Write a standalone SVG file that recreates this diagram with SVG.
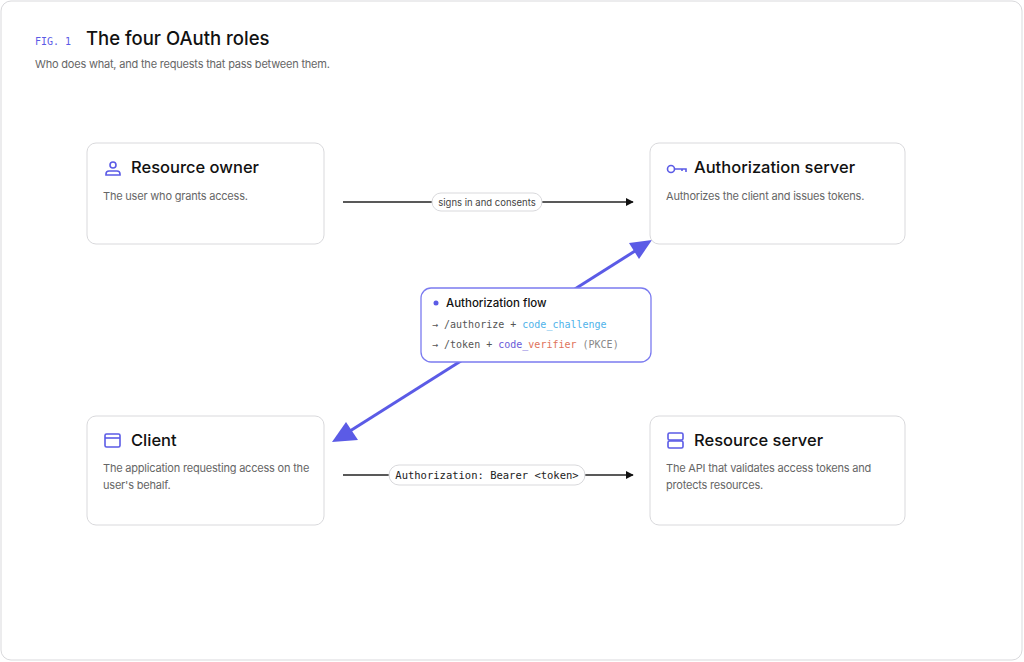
<svg xmlns="http://www.w3.org/2000/svg" width="1024" height="662" viewBox="0 0 1024 662">
<style>
.card{fill:#fff;stroke:#d9d9dc;stroke-width:1}
.t{font-family:Inter,"Liberation Sans",sans-serif;font-size:16.5px;fill:#111;font-weight:500}
.d{font-family:Inter,"Liberation Sans",sans-serif;font-size:11px;fill:#666;letter-spacing:-0.2px}
.m{font-family:"DejaVu Sans Mono","Liberation Mono",monospace;font-size:10.5px;fill:#222}
.ic{fill:none;stroke:#5b5be6;stroke-width:1.6}
.pill{fill:#fff;stroke:#d9d9dc}
</style>
<defs>
<marker id="ab" viewBox="0 0 10 10" refX="9" refY="5" markerWidth="6" markerHeight="6" orient="auto"><path d="M0,0L10,5L0,10z" fill="#111"/></marker>
</defs>
<rect x="1" y="1" width="1021" height="659" rx="10" fill="#fff" stroke="#d9d9dc"/>
<text x="35" y="45" font-family="'DejaVu Sans Mono',monospace" font-size="10" fill="#5b5be6">FIG. 1</text>
<text x="86" y="45" font-family="Inter,'Liberation Sans',sans-serif" font-size="18.5" fill="#111" font-weight="500">The four OAuth roles</text>
<text x="35" y="68" class="d" style="font-size:11px">Who does what, and the requests that pass between them.</text>
<g id="connectors">
<line x1="343" y1="202" x2="633" y2="202" stroke="#222" stroke-width="1.3" marker-end="url(#ab)"/>
<rect class="pill" x="432" y="193" width="110" height="18" rx="9"/>
<text x="487" y="205.5" text-anchor="middle" class="d" style="font-size:9.5px;fill:#444;letter-spacing:0">signs in and consents</text>
<line x1="343" y1="475" x2="633" y2="475" stroke="#222" stroke-width="1.3" marker-end="url(#ab)"/>
<rect class="pill" x="389" y="465" width="196" height="20" rx="10"/>
<text x="487" y="479" text-anchor="middle" class="m">Authorization: Bearer &lt;token&gt;</text>
<line x1="635" y1="251" x2="350" y2="431" stroke="#5b5be6" stroke-width="3"/>
<path d="M652,240L629,243L639,259z" fill="#5b5be6"/>
<path d="M332,442L346,422L358,440z" fill="#5b5be6"/>
</g>
<g id="flow">
<rect x="421" y="288" width="230" height="74" rx="10" fill="#fff" stroke="#7b7bf0" stroke-width="1.3"/>
<circle cx="436" cy="303" r="2.5" fill="#5b5be6"/>
<text x="446" y="307" class="d" style="font-size:11.5px;fill:#111;font-weight:500;letter-spacing:0">Authorization flow</text>
<text x="432" y="328" class="m" style="font-size:10px"><tspan fill="#555">→ /authorize + </tspan><tspan fill="#4fb3ea">code_challenge</tspan></text>
<text x="432" y="348" class="m" style="font-size:10px"><tspan fill="#555">→ /token + </tspan><tspan fill="#6a5ad8">code_</tspan><tspan fill="#e0735a">verifier</tspan><tspan fill="#888"> (PKCE)</tspan></text>
</g>
<g id="resource-owner">
<rect class="card" x="87" y="143" width="237" height="101" rx="9"/>
<circle cx="113" cy="165" r="3" class="ic"/><path d="M106,175v-1a3,3 0 0 1 3,-3h8a3,3 0 0 1 3,3v1z" class="ic"/>
<text x="131" y="173" class="t">Resource owner</text>
<text x="103" y="200" class="d">The user who grants access.</text>
</g>
<g id="authorization-server">
<rect class="card" x="650" y="143" width="255" height="101" rx="9"/>
<circle cx="671" cy="169" r="3.5" class="ic"/><path d="M675,169h11v3M682,169v2" class="ic"/>
<text x="694" y="173" class="t">Authorization server</text>
<text x="666" y="200" class="d">Authorizes the client and issues tokens.</text>
</g>
<g id="client">
<rect class="card" x="87" y="416" width="237" height="109" rx="9"/>
<rect x="105" y="434" width="15" height="13" rx="1.5" class="ic"/><line x1="105" y1="438" x2="120" y2="438" class="ic"/>
<text x="131" y="446" class="t">Client</text>
<text x="103" y="472" class="d">The application requesting access on the</text>
<text x="103" y="489" class="d">user's behalf.</text>
</g>
<g id="resource-server">
<rect class="card" x="650" y="416" width="255" height="109" rx="9"/>
<rect x="668" y="433" width="15" height="7" rx="1.5" class="ic"/><rect x="668" y="441" width="15" height="7" rx="1.5" class="ic"/>
<text x="694" y="446" class="t">Resource server</text>
<text x="666" y="472" class="d">The API that validates access tokens and</text>
<text x="666" y="489" class="d">protects resources.</text>
</g>
</svg>
